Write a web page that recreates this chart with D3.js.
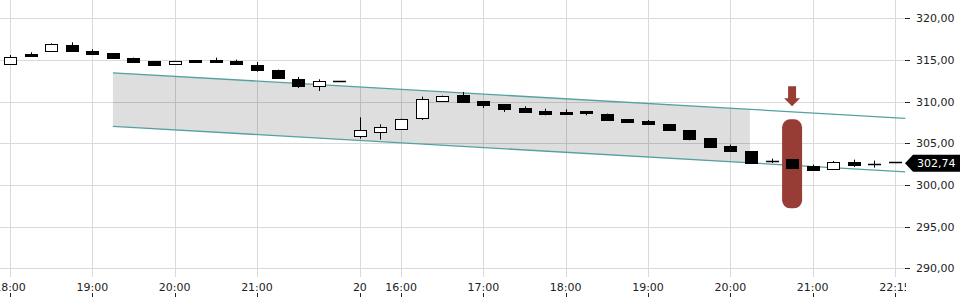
<!DOCTYPE html>
<html>
<head>
<meta charset="utf-8">
<script src="https://cdn.jsdelivr.net/npm/d3@7"></script>
<style>
body { margin: 0; background: #fff; }
svg text { font-family: "DejaVu Sans", sans-serif; font-size: 11px; fill: #222; }
</style>
</head>
<body>
<div id="chart"></div>
<script>
// 15 minute candles, two sessions
var opens  = [314.48,315.72,316.12,316.76,316.08,315.84,315.28,314.88,314.56,314.96,314.96,314.84,314.44,313.84,312.76,311.84,312.44,
              305.92,306.40,306.76,308.08,310.12,310.76,310.04,309.68,309.20,308.88,308.72,308.88,308.56,307.88,307.64,307.28,306.56,305.60,304.64,304.04,302.92,303.08,302.32,301.88,302.76,302.52,302.74];
var highs  = [315.60,315.92,317.00,317.12,316.28,315.84,315.28,314.88,314.90,314.96,315.28,315.04,314.76,313.84,312.96,312.68,312.44,
              308.12,307.28,307.96,310.60,310.72,311.16,310.04,309.68,309.44,309.16,309.08,308.88,308.56,307.88,307.80,307.28,306.56,305.60,304.84,304.04,303.16,303.08,302.44,302.88,303.04,302.92,302.74];
var lows   = [314.48,315.52,316.12,316.12,315.60,315.28,314.80,314.40,314.56,314.76,314.76,314.52,313.60,312.88,311.64,311.28,312.44,
              305.56,305.44,306.60,307.80,310.12,309.96,309.24,308.76,308.64,308.36,308.52,308.36,307.68,307.44,307.32,306.56,305.36,304.56,304.08,302.64,302.64,302.08,301.84,301.88,302.16,302.08,302.74];
var closes = [315.40,315.52,316.92,316.12,315.76,315.28,314.80,314.40,314.88,314.76,314.76,314.52,313.84,312.88,311.92,312.44,312.44,
              306.56,307.00,307.96,310.36,310.72,309.96,309.64,309.08,308.76,308.52,308.52,308.64,307.84,307.56,307.32,306.56,305.52,304.56,304.08,302.64,302.88,302.08,301.84,302.76,302.44,302.52,302.74];

var tickIdx    = [0, 4, 8, 12, 17, 19, 23, 27, 31, 35, 39, 43];
var tickLabels = ["18:00","19:00","20:00","21:00","20","16:00","17:00","18:00","19:00","20:00","21:00","22:15"];
var yTicks = [290, 295, 300, 305, 310, 315, 320];

// trend channel (candle index -> price)
var channelIdx   = [5, 43.5];
var channelUpper = [313.46, 308.0];
var channelLower = [307.04, 301.58];
var channelFillEnd = 35.95;

var markerIdx = 38;
var markerRange = [297.2, 307.88];
var arrowRange = [311.84, 309.44];
var lastPrice = 302.74;

var width = 960, height = 300;
var plotRight = 905;

var x = d3.scaleLinear().domain([0, 43]).range([10, 895]);
var y = d3.scaleLinear().domain([290, 320]).range([268.3, 18.3]);
var chUp = d3.scaleLinear().domain(channelIdx).range(channelUpper);
var chLo = d3.scaleLinear().domain(channelIdx).range(channelLower);

var svg = d3.select("#chart")
  .append("svg")
  .attr("width", width)
  .attr("height", height);

var defs = svg.append("defs");
defs.append("clipPath").attr("id", "plotclip")
  .append("rect").attr("x", 0).attr("y", 0).attr("width", plotRight + 1).attr("height", height);

var crisp = function(v) { return Math.round(v) + 0.5; };

// grid
svg.append("g").selectAll("line")
  .data(yTicks)
  .enter().append("line")
  .attr("x1", 0).attr("x2", plotRight)
  .attr("y1", function(d) { return crisp(y(d)); })
  .attr("y2", function(d) { return crisp(y(d)); })
  .attr("stroke", "#dadada");

svg.append("g").selectAll("line")
  .data(tickIdx)
  .enter().append("line")
  .attr("x1", function(d) { return crisp(x(d)); })
  .attr("x2", function(d) { return crisp(x(d)); })
  .attr("y1", 0).attr("y2", 277)
  .attr("stroke", "#dadada");

// channel fill
var fillPts = [
  [x(channelIdx[0]), y(chUp(channelIdx[0]))],
  [x(channelFillEnd), y(chUp(channelFillEnd))],
  [x(channelFillEnd), y(chLo(channelFillEnd))],
  [x(channelIdx[0]), y(chLo(channelIdx[0]))]
];
svg.append("path")
  .attr("d", "M" + fillPts.join("L") + "Z")
  .attr("fill", "rgba(0,0,0,0.13)");

// channel lines
[chUp, chLo].forEach(function(f) {
  svg.append("line")
    .attr("x1", x(channelIdx[0])).attr("y1", y(f(channelIdx[0])))
    .attr("x2", x(channelIdx[1])).attr("y2", y(f(channelIdx[1])))
    .attr("stroke", "#55a0a0")
    .attr("stroke-width", 1.3);
});

// marker
svg.append("rect")
  .attr("x", x(markerIdx) - 10)
  .attr("y", y(markerRange[1]))
  .attr("width", 20)
  .attr("height", y(markerRange[0]) - y(markerRange[1]))
  .attr("rx", 8)
  .attr("fill", "#983c36");

var ax = x(markerIdx), aTop = y(arrowRange[0]), aTip = y(arrowRange[1]);
svg.append("path")
  .attr("d", "M" + (ax - 4) + "," + aTop + "H" + (ax + 4) + "V" + (aTip - 8) + "H" + (ax + 8) +
             "L" + ax + "," + aTip + "L" + (ax - 8) + "," + (aTip - 8) + "H" + (ax - 4) + "Z")
  .attr("fill", "#983c36");

// candles
var bodyTop = function(i) { return Math.round(y(Math.max(opens[i], closes[i]))); };
var bodyBot = function(i) { return Math.round(y(Math.min(opens[i], closes[i]))); };

var candles = svg.append("g").selectAll("g")
  .data(opens.map(function(o, i) { return i; }))
  .enter().append("g");

candles.filter(function(i) { return highs[i] > lows[i]; })
  .append("line")
  .attr("x1", function(i) { return crisp(x(i)); })
  .attr("x2", function(i) { return crisp(x(i)); })
  .attr("y1", function(i) { return y(highs[i]); })
  .attr("y2", function(i) { return y(lows[i]); })
  .attr("stroke", "#000");

candles.filter(function(i) { return bodyBot(i) > bodyTop(i); })
  .append("rect")
  .attr("x", function(i) { return Math.round(x(i)) - 6 + 0.5; })
  .attr("y", function(i) { return bodyTop(i) + 0.5; })
  .attr("width", 12)
  .attr("height", function(i) { return bodyBot(i) - bodyTop(i); })
  .attr("fill", function(i) { return closes[i] > opens[i] ? "#fff" : "#000"; })
  .attr("stroke", "#000");

// doji: flat body
candles.filter(function(i) { return bodyBot(i) <= bodyTop(i); })
  .append("line")
  .attr("x1", function(i) { return Math.round(x(i)) - 6; })
  .attr("x2", function(i) { return Math.round(x(i)) + 7; })
  .attr("y1", function(i) { return bodyTop(i) + 0.5; })
  .attr("y2", function(i) { return bodyTop(i) + 0.5; })
  .attr("stroke", "#000")
  .attr("stroke-width", 1.5);

// y axis (right)
var yAxis = svg.append("g");
yAxis.selectAll("line")
  .data(yTicks)
  .enter().append("line")
  .attr("x1", plotRight).attr("x2", plotRight + 5)
  .attr("y1", function(d) { return crisp(y(d)); })
  .attr("y2", function(d) { return crisp(y(d)); })
  .attr("stroke", "#222");
yAxis.selectAll("text")
  .data(yTicks)
  .enter().append("text")
  .attr("x", 916)
  .attr("y", function(d) { return y(d) + 4; })
  .text(function(d) { return d3.format(".2f")(d).replace(".", ","); });

// last price tag
var ly = y(lastPrice) + 1;
svg.append("path")
  .attr("d", "M" + plotRight + "," + ly + "L913," + (ly - 8.5) + "H960V" + (ly + 8.5) + "H913Z")
  .attr("fill", "#000");
svg.append("text")
  .attr("x", 917)
  .attr("y", ly + 4)
  .style("fill", "#fff")
  .text(d3.format(".2f")(lastPrice).replace(".", ","));

// x axis
var xAxis = svg.append("g").attr("clip-path", "url(#plotclip)");
xAxis.selectAll("line")
  .data(tickIdx)
  .enter().append("line")
  .attr("x1", function(d) { return crisp(x(d)); })
  .attr("x2", function(d) { return crisp(x(d)); })
  .attr("y1", 293).attr("y2", 297)
  .attr("stroke", "#222");
xAxis.selectAll("text")
  .data(tickIdx)
  .enter().append("text")
  .attr("x", function(d) { return x(d); })
  .attr("y", 291)
  .attr("text-anchor", "middle")
  .text(function(d, i) { return tickLabels[i]; });
</script>
</body>
</html>
